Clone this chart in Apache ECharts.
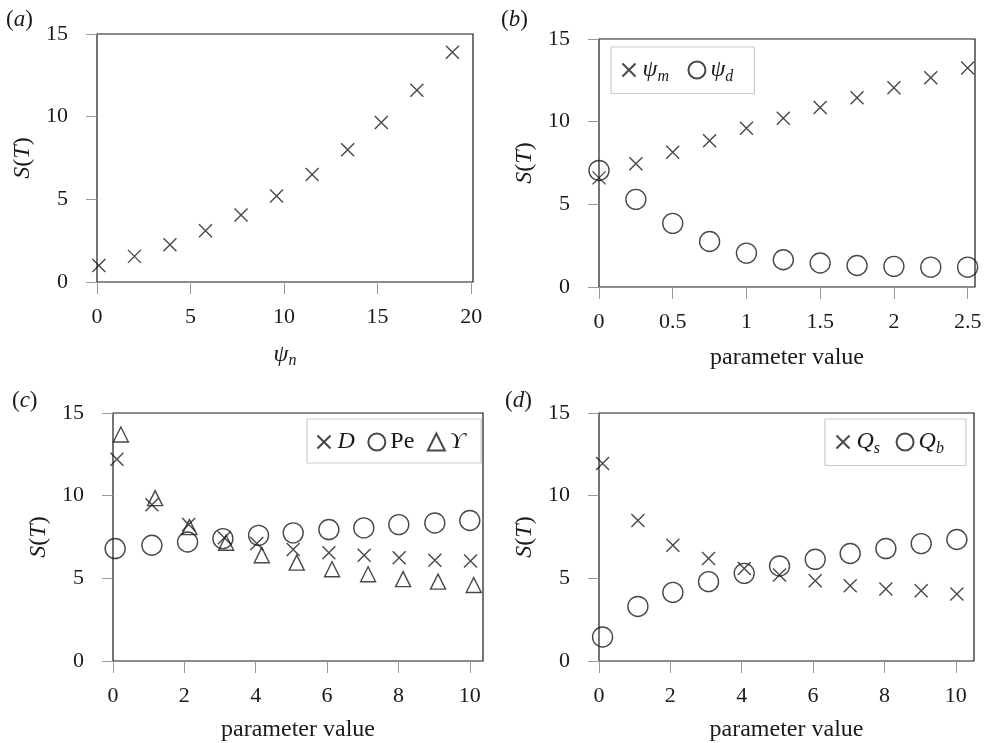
<!DOCTYPE html>
<html><head><meta charset="utf-8">
<script src="https://cdn.jsdelivr.net/npm/echarts@6/dist/echarts.min.js"></script>
<style>html,body{margin:0;padding:0;background:#fff}#c{width:989px;height:743px}</style>
</head><body><div id="c"></div>
<script>
// ---- data ----
const aX = [0.1, 2.0, 3.9, 5.8, 7.7, 9.6, 11.5, 13.4, 15.2, 17.1, 19.0];
const aY = [1.0, 1.55, 2.25, 3.1, 4.05, 5.2, 6.5, 8.0, 9.65, 11.6, 13.9];

const bX = [0, 0.25, 0.5, 0.75, 1.0, 1.25, 1.5, 1.75, 2.0, 2.25, 2.5];
const bPsiM = [6.6, 7.45, 8.15, 8.85, 9.6, 10.2, 10.85, 11.45, 12.05, 12.65, 13.25];
const bPsiD = [7.05, 5.3, 3.85, 2.75, 2.05, 1.65, 1.45, 1.3, 1.25, 1.2, 1.2];

const cXD = [0.11, 1.09, 2.12, 3.12, 4.03, 5.05, 6.05, 7.04, 8.02, 9.02, 10.02];
const cD = [12.2, 9.45, 8.25, 7.45, 7.1, 6.75, 6.55, 6.4, 6.25, 6.1, 6.05];
const cXPe = [0.06, 1.09, 2.09, 3.08, 4.08, 5.05, 6.05, 7.03, 8.01, 9.02, 10.0];
const cPe = [6.8, 7.0, 7.2, 7.4, 7.6, 7.75, 7.95, 8.05, 8.25, 8.35, 8.5];
const cXUps = [0.22, 1.18, 2.14, 3.17, 4.17, 5.15, 6.14, 7.15, 8.13, 9.11, 10.11];
const cUps = [13.7, 9.85, 8.1, 7.15, 6.4, 5.95, 5.55, 5.25, 4.95, 4.8, 4.6];

const dX = [0.1, 1.09, 2.07, 3.07, 4.07, 5.06, 6.06, 7.04, 8.04, 9.03, 10.03];
const dQs = [11.95, 8.5, 7.0, 6.2, 5.6, 5.2, 4.85, 4.55, 4.35, 4.25, 4.05];
const dQb = [1.45, 3.3, 4.15, 4.8, 5.3, 5.75, 6.15, 6.5, 6.8, 7.1, 7.35];

const yTicks = [0, 5, 10, 15];
const aXTicks = [0, 5, 10, 15, 20];
const bXTicks = [0, 0.5, 1, 1.5, 2, 2.5];
const cdXTicks = [0, 2, 4, 6, 8, 10];

// ---- style ----
const FONT = "'Liberation Serif', 'DejaVu Serif', serif";
const INK = '#1a1a1a';
const TICKFS = 22, NAMEFS = 24, LEGFS = 24;
const CROSS = 'path://M0,0L10,10M10,0L0,10';
const CROSS_LEG = 'path://M-1.5,-1.5M0,0L10,10M10,0L0,10M11.5,11.5';
const zip = (xs, ys) => xs.map((x, i) => [x, ys[i]]);

const grids = [
  {left: 97, top: 34, width: 376, height: 248},
  {left: 599, top: 39, width: 376, height: 248},
  {left: 113, top: 413, width: 370, height: 248},
  {left: 599, top: 413, width: 375, height: 248}
].map(g => Object.assign(g, {show: true, borderColor: INK, borderWidth: 1.2, backgroundColor: 'transparent'}));

function rich(fs) {
  return {
    i: {fontFamily: FONT, fontStyle: 'italic', fontSize: fs, color: INK},
    r: {fontFamily: FONT, fontSize: fs, color: INK},
    s: {fontFamily: FONT, fontStyle: 'italic', fontSize: Math.round(fs * 0.68), color: INK, padding: [Math.round(fs * 0.55), 0, 0, 0]}
  };
}

function xAxis(idx, min, max, ticks, name, nameGap) {
  return {
    type: 'value', gridIndex: idx, min: min, max: max,
    name: name, nameLocation: 'middle', nameGap: nameGap,
    nameTextStyle: {fontFamily: FONT, fontSize: NAMEFS, color: INK, rich: rich(NAMEFS)},
    axisLine: {show: false},
    axisTick: {show: true, inside: false, length: 12, customValues: ticks, lineStyle: {color: '#999', width: 1}},
    axisLabel: {customValues: ticks, margin: 24, fontFamily: FONT, fontSize: TICKFS, color: INK},
    splitLine: {show: false}
  };
}
function yAxis(idx) {
  return {
    type: 'value', gridIndex: idx, min: 0, max: 15,
    name: '{i|S}({i|T})', nameLocation: 'middle', nameGap: 62, nameRotate: 90,
    nameTextStyle: {fontFamily: FONT, fontSize: NAMEFS, color: INK, rich: rich(NAMEFS)},
    axisLine: {show: false},
    axisTick: {show: true, inside: false, length: 11, customValues: yTicks, lineStyle: {color: '#999', width: 1}},
    axisLabel: {customValues: yTicks, margin: 29, fontFamily: FONT, fontSize: TICKFS, color: INK},
    splitLine: {show: false}
  };
}

function sc(name, idx, data, symbol, size) {
  return {
    type: 'scatter', name: name, xAxisIndex: idx, yAxisIndex: idx,
    data: data, symbol: symbol, symbolSize: size,
    itemStyle: {color: 'none', borderColor: INK, borderWidth: 1.4},
    emphasis: {disabled: true}, animation: false
  };
}

const legendBase = {
  orient: 'horizontal', backgroundColor: '#fff', borderColor: '#ccc', borderWidth: 1.2,
  itemWidth: 17, itemHeight: 17,
  textStyle: {fontFamily: FONT, fontSize: LEGFS, color: INK, rich: rich(LEGFS)},
  selectedMode: false
};

const labelsTxt = {
  'psi_m': '{i|ψ}{s|m}', 'psi_d': '{i|ψ}{s|d}', 'D': '{i|D}', 'Pe': '{r|Pe}', 'Ups': '{i|ϒ}',
  'Qs': '{i|Q}{s|s}', 'Qb': '{i|Q}{s|b}'
};
const legItem = (n, isCross) => isCross ? {name: n, icon: CROSS_LEG} : {name: n};

const option = {
  animation: false,
  backgroundColor: '#fff',
  title: [
    {text: '({i|a})', left: 6, top: 8},
    {text: '({i|b})', left: 501, top: 8},
    {text: '({i|c})', left: 12, top: 389},
    {text: '({i|d})', left: 505, top: 389}
  ].map(t => Object.assign(t, {padding: 0, textStyle: {fontFamily: FONT, fontSize: 23, fontWeight: 'normal', color: INK, rich: {i: {fontFamily: FONT, fontStyle: 'italic', fontSize: 23, color: INK}}}})),
  grid: grids,
  xAxis: [
    xAxis(0, 0, 20.1, aXTicks, '{i|ψ}{s|n}', 58),
    xAxis(1, 0, 2.55, bXTicks, 'parameter value', 59),
    xAxis(2, 0, 10.37, cdXTicks, 'parameter value', 57),
    xAxis(3, 0, 10.51, cdXTicks, 'parameter value', 57)
  ],
  yAxis: [yAxis(0), yAxis(1), yAxis(2), yAxis(3)],
  legend: [
    Object.assign({}, legendBase, {left: 611, top: 47, itemGap: 17, padding: [11, 21, 9, 7], data: [legItem('psi_m', true), legItem('psi_d')], formatter: n => labelsTxt[n]}),
    Object.assign({}, legendBase, {left: 307, top: 419, itemGap: 11, padding: [11, 16, 9, 6], data: [legItem('D', true), legItem('Pe'), legItem('Ups')], formatter: n => labelsTxt[n]}),
    Object.assign({}, legendBase, {left: 825, top: 419, itemGap: 14, padding: [11, 22, 9, 7], data: [legItem('Qs', true), legItem('Qb')], formatter: n => labelsTxt[n]})
  ],
  series: [
    sc('a', 0, zip(aX, aY), CROSS, 13),
    sc('psi_m', 1, zip(bX, bPsiM), CROSS, 13),
    sc('psi_d', 1, zip(bX, bPsiD), 'circle', 20),
    sc('D', 2, zip(cXD, cD), CROSS, 13),
    sc('Pe', 2, zip(cXPe, cPe), 'circle', 20),
    sc('Ups', 2, zip(cXUps, cUps), 'triangle', 15),
    sc('Qs', 3, zip(dX, dQs), CROSS, 13),
    sc('Qb', 3, zip(dX, dQb), 'circle', 20)
  ]
};

const chart = echarts.init(document.getElementById('c'), null, {renderer: 'canvas'});
chart.setOption(option);
</script>
</body></html>
